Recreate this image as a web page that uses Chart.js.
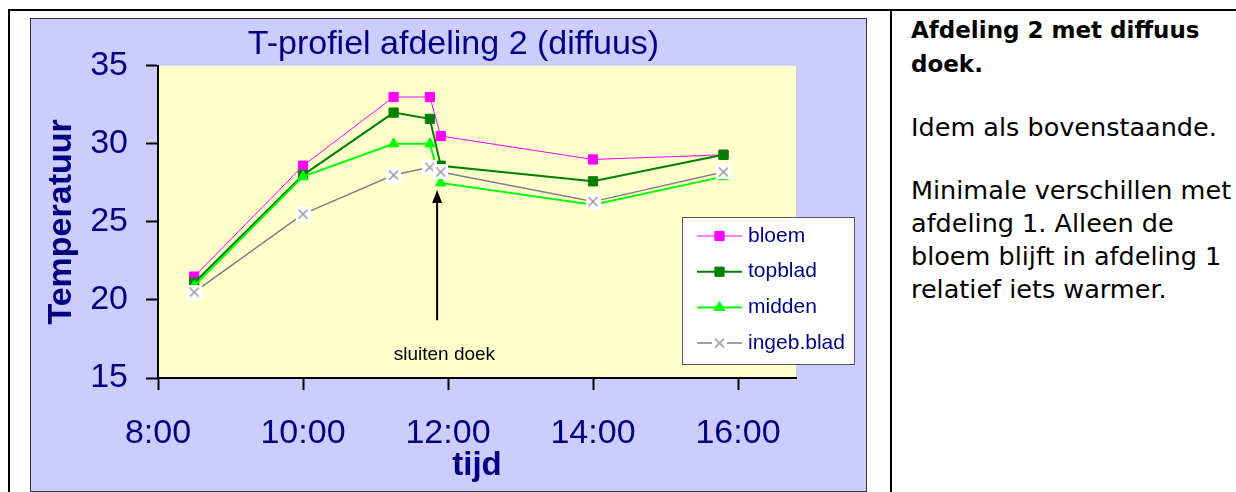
<!DOCTYPE html>
<html>
<head>
<meta charset="utf-8">
<script src="https://cdn.jsdelivr.net/npm/chart.js@4.4.1/dist/chart.umd.min.js"></script>
<style>
  body { margin: 0; background: #fff; width: 1236px; height: 492px; overflow: hidden; position: relative; }
  #topline { position: absolute; left: 8px; top: 9px; width: 1228px; height: 2px; background: #000; }
  #leftline { position: absolute; left: 8px; top: 9px; width: 2px; height: 483px; background: #000; }
  #midline { position: absolute; left: 890px; top: 9px; width: 2px; height: 483px; background: #000; }
  #box { position: absolute; left: 30px; top: 18px; width: 835px; height: 472px; border: 1px solid #333; background: #ccccff; }
  #notes { position: absolute; left: 911px; top: 13px; width: 324px; font-family: "DejaVu Sans", sans-serif; font-size: 25.5px; line-height: 33px; color: #000; }
  #notes p { margin: 0 0 30px 0; white-space: nowrap; }
  #notes b { font-size: 23px; }
</style>
</head>
<body>
<div id="topline"></div>
<div id="leftline"></div>
<div id="midline"></div>
<div id="box"><canvas id="tprofiel" width="835" height="472"></canvas></div>
<div id="notes">
  <p><b>Afdeling 2 met diffuus<br>doek.</b></p>
  <p>Idem als bovenstaande.</p>
  <p>Minimale verschillen met<br>afdeling 1. Alleen de<br>bloem blijft in afdeling 1<br>relatief iets warmer.</p>
</div>
<script>
// meettijdstippen (uren) en temperaturen per meetpunt
const times = [8.5, 10, 11.25, 11.75, 11.9, 14, 15.8];
const bloem = [21.5, 28.6, 33.0, 33.0, 30.5, 29.0, 29.3];
const topblad = [21.1, 28.0, 32.0, 31.6, 28.6, 27.6, 29.3];
const midden = [20.9, 27.9, 30.0, 30.0, 27.5, 26.1, 27.9];
const ingebBlad = [20.5, 25.5, 28.0, 28.5, 28.2, 26.3, 28.2];
const seriesNames = ['bloem', 'topblad', 'midden', 'ingeb.blad'];
const xTicks = [8, 10, 12, 14, 16];
const yTicks = [15, 20, 25, 30, 35];

// pijl "sluiten doek" in data-eenheden
const arrowAt = 11.85;
const arrowFrom = 18.7;
const arrowTo = 27.05;
const noteText = 'sluiten doek';
const notePos = { x: 11.95, y: 16.5 };

const navy = '#000080';
Chart.defaults.font.family = '"Liberation Sans", Arial, sans-serif';

function crossMarker() {
  const c = document.createElement('canvas');
  c.width = 15; c.height = 15;
  const g = c.getContext('2d');
  g.fillStyle = '#fff';
  g.fillRect(0, 0, 15, 15);
  g.strokeStyle = '#999';
  g.lineWidth = 1.6;
  g.beginPath();
  g.moveTo(3, 3); g.lineTo(12, 12);
  g.moveTo(12, 3); g.lineTo(3, 12);
  g.stroke();
  return c;
}

const pts = vals => times.map((t, i) => ({ x: t, y: vals[i] }));

const datasets = [
  { label: seriesNames[0], data: pts(bloem), borderColor: '#ff00ff', backgroundColor: '#ff00ff', borderWidth: 1,
    pointStyle: 'rect', pointRadius: 6.5, pointBorderWidth: 1, order: 4 },
  { label: seriesNames[1], data: pts(topblad), borderColor: '#008000', backgroundColor: '#008000', borderWidth: 2,
    pointStyle: 'rect', pointRadius: 6.5, pointBorderWidth: 1, order: 3 },
  { label: seriesNames[2], data: pts(midden), borderColor: '#00ff00', backgroundColor: '#00ff00', borderWidth: 2,
    pointStyle: 'triangle', pointRadius: 6, pointBorderWidth: 1, order: 2 },
  { label: seriesNames[3], data: pts(ingebBlad), borderColor: '#808080', backgroundColor: '#808080', borderWidth: 1.5,
    pointStyle: crossMarker(), pointRadius: 7, order: 1 }
];

const plotBg = {
  id: 'plotBg',
  beforeDraw(chart) {
    const a = chart.chartArea, ctx = chart.ctx;
    ctx.save();
    ctx.fillStyle = '#ffffcc';
    ctx.fillRect(a.left, a.top, a.right - a.left, a.bottom - a.top);
    ctx.restore();
  }
};

const closeArrow = {
  id: 'closeArrow',
  afterDatasetsDraw(chart) {
    const ctx = chart.ctx, xs = chart.scales.x, ys = chart.scales.y;
    const x = xs.getPixelForValue(arrowAt);
    const y0 = ys.getPixelForValue(arrowFrom), y1 = ys.getPixelForValue(arrowTo);
    ctx.save();
    ctx.strokeStyle = '#000';
    ctx.fillStyle = '#000';
    ctx.lineWidth = 2;
    ctx.beginPath();
    ctx.moveTo(x, y0);
    ctx.lineTo(x, y1 + 10);
    ctx.stroke();
    ctx.beginPath();
    ctx.moveTo(x, y1);
    ctx.lineTo(x - 5, y1 + 13);
    ctx.lineTo(x + 5, y1 + 13);
    ctx.closePath();
    ctx.fill();
    ctx.font = '19px "Liberation Sans", Arial, sans-serif';
    ctx.textAlign = 'center';
    ctx.textBaseline = 'middle';
    ctx.fillText(noteText, xs.getPixelForValue(notePos.x), ys.getPixelForValue(notePos.y));
    ctx.restore();
  }
};

const boxLegend = {
  id: 'boxLegend',
  afterDraw(chart) {
    const ctx = chart.ctx, a = chart.chartArea;
    const right = chart.width - 12, left = right - 172;
    const top = a.bottom - 161, h = 147;
    ctx.save();
    ctx.fillStyle = '#fff';
    ctx.fillRect(left, top, right - left, h);
    ctx.strokeStyle = '#555';
    ctx.lineWidth = 1;
    ctx.strokeRect(left + 0.5, top + 0.5, right - left, h);
    chart.data.datasets.forEach((ds, i) => {
      const y = top + 19 + i * 35.7;
      const lx0 = left + 15, lx1 = left + 60, mx = (lx0 + lx1) / 2;
      ctx.strokeStyle = ds.borderColor;
      ctx.lineWidth = ds.borderWidth;
      ctx.beginPath();
      ctx.moveTo(lx0, y);
      ctx.lineTo(lx1, y);
      ctx.stroke();
      ctx.fillStyle = ds.backgroundColor;
      ctx.lineWidth = 1;
      Chart.helpers.drawPoint(ctx, { pointStyle: ds.pointStyle, radius: ds.pointRadius, rotation: 0, borderWidth: 1 }, mx, y);
      ctx.fillStyle = navy;
      ctx.font = '21px "Liberation Sans", Arial, sans-serif';
      ctx.textAlign = 'left';
      ctx.textBaseline = 'middle';
      ctx.fillText(ds.label, left + 66, y);
    });
    ctx.restore();
  }
};

new Chart(document.getElementById('tprofiel'), {
  type: 'line',
  data: { datasets: datasets },
  options: {
    responsive: false,
    animation: false,
    layout: { padding: { left: 10, right: 0, top: 0, bottom: 0 } },
    scales: {
      x: {
        type: 'linear', min: 8, max: 16.8,
        afterBuildTicks: s => { s.ticks = xTicks.map(v => ({ value: v })); },
        afterFit: s => { s.height = 113; },
        ticks: { color: navy, font: { size: 34 }, padding: 23, maxRotation: 0, autoSkip: false, callback: v => v + ':00' },
        grid: { drawOnChartArea: false, tickLength: 12, tickColor: '#000', tickWidth: 2, color: '#000' },
        border: { color: '#000', width: 2 },
        title: { display: true, text: 'tijd', color: navy, font: { size: 33, weight: 'bold' }, padding: { top: 0, bottom: 5 } }
      },
      y: {
        min: 15, max: 35,
        afterBuildTicks: s => { s.ticks = yTicks.map(v => ({ value: v })); },
        afterFit: s => { s.width = 117; },
        ticks: { color: navy, font: { size: 34 }, padding: 18 },
        grid: { drawOnChartArea: false, tickLength: 12, tickColor: '#000', tickWidth: 2, color: '#000' },
        border: { color: '#000', width: 2 },
        title: { display: true, text: 'Temperatuur', color: navy, font: { size: 34, weight: 'bold' }, padding: 0 }
      },
      yR: {
        position: 'right',
        afterFit: s => { s.width = 70; },
        ticks: { display: false },
        grid: { display: false },
        border: { display: false }
      }
    },
    plugins: {
      legend: { display: false },
      tooltip: { enabled: false },
      title: {
        display: true, text: 'T-profiel afdeling 2 (diffuus)', color: navy,
        font: { size: 34, weight: 'normal' }, padding: { top: 5, bottom: 1 }
      }
    }
  },
  plugins: [plotBg, closeArrow, boxLegend]
});
</script>
</body>
</html>
